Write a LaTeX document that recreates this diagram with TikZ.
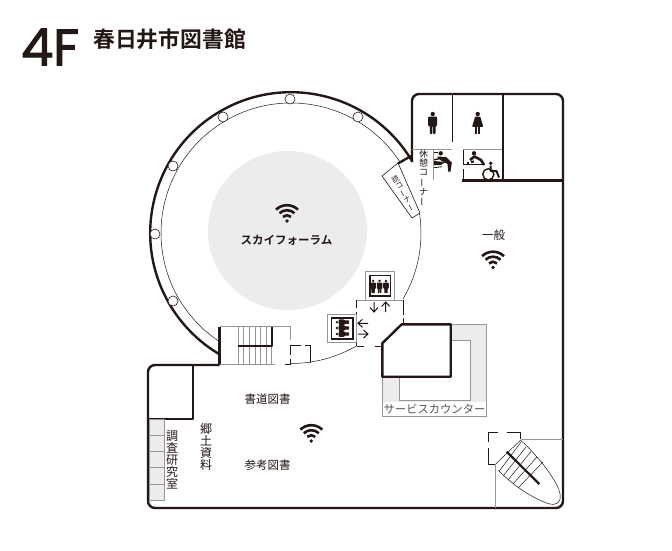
\documentclass[tikz,border=0pt]{standalone}
\usepackage{fontspec}
\newfontfamily\cjk{Noto Sans CJK JP}
\newfontfamily\cjkb{Noto Sans CJK JP}[BoldFont={Noto Sans CJK JP Bold}]
\newfontfamily\latinb{Poppins}[FakeBold=2.0]
\usetikzlibrary{calc}
\definecolor{ink}{RGB}{35,24,21}
\definecolor{tone}{RGB}{150,150,150}
\definecolor{softgrey}{RGB}{236,236,236}
\newcommand{\vbar}{\rotatebox[origin=c]{90}{ー}}
\tikzset{
  wall/.style={draw=ink,line width=2.4pt,line join=round},
  thinline/.style={draw=ink,line width=0.5pt},
  toneline/.style={draw=tone,line width=0.9pt},
  label/.style={text=ink,inner sep=0pt,font={\cjk\fontsize{11.5}{12}\selectfont}},
  vlabel/.style={text=ink,inner sep=0pt,align=center,font={\cjk\fontsize{#1}{#1}\selectfont}},
  manfig/.pic={
    \begin{scope}[yscale=-1]
    \fill[ink] (0,-9) circle (2.2);
    \fill[ink,rounded corners=0.8pt] (-4.5,-6.4) -- (4.5,-6.4) -- (4.5,3) -- (2.8,3) -- (2.8,11) -- (0.3,11) -- (0.3,3) -- (-0.3,3) -- (-0.3,11) -- (-2.8,11) -- (-2.8,3) -- (-4.5,3) -- cycle;
    \end{scope}
  },
  womanfig/.pic={
    \begin{scope}[yscale=-1]
    \fill[ink] (0,-9) circle (2.2);
    \fill[ink,rounded corners=0.6pt] (-2.6,-6.4) -- (2.6,-6.4) -- (5.6,3.8) -- (-5.6,3.8) -- cycle;
    \fill[ink] (-2.6,3.8) rectangle (-0.3,11);
    \fill[ink] (0.3,3.8) rectangle (2.6,11);
    \end{scope}
  },
  wifi/.pic={
    \fill[ink] (0,0) circle (1.9);
    \foreach \r in {5.8,10.8,15.8}{
      \draw[ink,line width=2.6pt] (134:\r) arc[start angle=134,end angle=46,radius=\r];
    }
  },
}
\begin{document}
\begin{tikzpicture}[x=1pt,y=1pt,yscale=-1]
\useasboundingbox (0,0) rectangle (672,550);
\fill[white] (0,0) rectangle (672,550);
\coordinate (c) at (291,233);

% title
\node[anchor=west,inner sep=0pt,text=ink,font={\latinb\fontsize{51}{51}\selectfont}] (floor) at (21,47) {4F};
\node[anchor=west,inner sep=0pt,text=ink,font={\cjkb\bfseries\fontsize{21.8}{22}\selectfont}] (libname) at (93,39) {春日井市図書館};

% forum
\fill[softgrey] (287.5,230.5) circle (79.5);

% inner balcony arcs
\draw[thinline] ([shift={(-33:130)}]c) arc[start angle=-33,end angle=-237,radius=130];
\draw[thinline] ([shift={(-9:130)}]c) arc[start angle=-9,end angle=30.5,radius=130];
\draw[thinline] ([shift={(90:130.5)}]c) arc[start angle=90,end angle=60,radius=130.5];

% outer wall
\draw[wall] ([shift={(-30.4:140.8)}]c) arc[start angle=-30.4,end angle=-239.5,radius=140.8];
\draw[wall,rounded corners=7pt] (412,162) -- (412,94) -- (563,94) -- (563,508) -- (148,508) -- (148,365) -- (219.5,365);
\draw[wall] (219.5,365) -- (219.5,326.5);

% columns
\foreach \p/\q in {290/99,223/117,358/117,173/166,155/234,173/301}{
  \filldraw[fill=white,draw=ink,line width=0.6pt] (\p,\q) circle (5);
}

% reading corner wedge
\filldraw[fill=white,draw=ink,line width=0.6pt] (382,176) -- (398,163) -- (420,213) -- (412,218) -- cycle;
\draw[wall] (398,163.5) -- (411,156);
\node[rotate=30,vlabel=7.2] (reading) at (403.5,193) {読\\[0.5pt]コ\\\vbar\\ナ\\\vbar};

% toilets partitions
\draw[thinline] (452.3,94) -- (452.3,142);
\draw[toneline] (412,149) -- (452,149);
\draw[toneline] (463,149) -- (502.7,149);
\draw[toneline] (433.7,149) -- (433.7,180);
\draw[wall] (502.7,94) -- (502.7,180.3);
\draw[wall] (462,180.3) -- (563,180.3);
\draw[ink,line width=0.8pt] (463,150) -- (463,165);
\draw[ink,line width=0.8pt] (463,169) -- (463,180);
\pic at (432.7,123) {manfig};
\pic at (477.7,123) {womanfig};
\node[vlabel=9] (rest) at (423.5,178.5) {休\\憩\\コ\\\vbar\\ナ\\\vbar};

% drinking fountain
\fill[ink] (440.7,153.3) circle (2.2);
\fill[ink] (437,156.5) -- (446,157) -- (451.8,162.5) -- (450.5,171.5) -- (448.2,171.5) -- (447.5,164) -- (441,160.5) -- cycle;
\draw[ink,line width=1.4pt] (434,159.8) -- (441.5,158.2);
\fill[ink] (434,161) -- (445,162) -- (441,165) -- (434,165) -- cycle;
\draw[ink,line width=0.8pt] (434,167.7) -- (442,166.7);
\draw[ink,line width=0.8pt] (434,152.3) -- (438,152.3);

% baby changing
\fill[ink] (474,153.3) circle (2.2);
\draw[ink,line width=2.6pt,line join=round] (470,160) -- (474.5,156.5) -- (481,160) -- (484,165);
\draw[ink,line width=2pt] (467,162.5) -- (469,162.5);
\draw[ink,line width=2pt] (471,162) -- (474,161.5);
\draw[ink,line width=0.9pt] (464,164.6) -- (485,164.6);

% wheelchair
\fill[ink] (490.7,163.3) circle (1.9);
\draw[ink,line width=1.4pt] (488.3,174.3) circle (5.6);
\draw[ink,line width=2pt,line join=round] (490.7,165.5) -- (490.7,171) -- (496.5,171) -- (499,177.5);

% stairs (upper left)
\draw[toneline] (219.5,326.7) -- (290,326.7) -- (290,340);
\foreach \s in {238.3,243.5,249.3,255,260.7,266}{
  \draw[toneline] (\s,327) -- (\s,364.5);
}
\draw[toneline] (271.7,345) -- (271.7,364.5);
\draw[wall] (271.7,327) -- (271.7,345.7) -- (238,345.7);
\draw[toneline] (219.5,364.7) -- (275,364.7);
\draw[thinline] (285,364.5) -- (291,364.5);
\draw[thinline] (290.5,345) -- (290.5,355);
\draw[thinline] (290.5,359) -- (290.5,364);
\draw[thinline] (291,345.3) -- (301,345.3);
\draw[thinline] (305,345.3) -- (310,345.3) -- (310,363);

% counter surround
\filldraw[fill=softgrey,draw=tone,line width=0.9pt] (382.3,324.7) rectangle (486.7,416.7);
\fill[white] (383,402) rectangle (486,416);
\filldraw[fill=white,draw=tone,line width=0.9pt] (399,376.7) -- (399,400) -- (470.7,400) -- (470.7,340.7) -- (451,340.7) -- (451,376.7) -- cycle;
\fill[white] (381,323) -- (401.7,323) -- (381,343.5) -- cycle;
\draw[toneline] (401.7,324.7) -- (486.7,324.7);
\filldraw[fill=white,draw=ink,line width=2.4pt,line join=round] (401.7,324.3) -- (450.7,324.3) -- (450.7,376.7) -- (382.3,376.7) -- (382.3,343.3) -- cycle;
\node[inner sep=0pt,text=ink!75,font={\cjk\fontsize{11.3}{12}\selectfont}] (counter) at (434.5,409.5) {サービスカウンター};

% elevator hall
\draw[toneline] (356.7,300) -- (403,300);
\draw[thinline] (356.7,300) -- (356.7,308);
\draw[thinline] (356.7,312) -- (356.7,316);
\draw[thinline] (357,346) -- (364,346);
\draw[thinline] (375,346) -- (382,346);
\draw[thinline] (356.7,341) -- (356.7,346);
\draw[thinline] (403,300) -- (403,315);
\draw[thinline] (403,318) -- (403,324);

\filldraw[fill=white,draw=tone,line width=0.9pt] (365.7,271.7) rectangle (394.3,300);
\draw[ink,line width=1.8pt] (370,275.5) rectangle (390.5,296);
\foreach \s in {373.2,379.6,386}{
  \pic[scale=0.62] at (\s,286.5) {manfig};
}
\filldraw[fill=white,draw=tone,line width=0.9pt] (327.3,314.3) rectangle (356.7,342.7);
\draw[ink,line width=1.8pt] (331.5,318) rectangle (353,339.3);
\foreach \s in {322.2,328,334}{
  \pic[scale=0.62,rotate=90] at (342.5,\s) {manfig};
}
\coordinate (d1) at (374,302); \coordinate (d2) at (374,312);
\coordinate (u1) at (385.7,312); \coordinate (u2) at (385.7,302);
\coordinate (l1) at (368,323.3); \coordinate (l2) at (358,323.3);
\coordinate (r1) at (358,334); \coordinate (r2) at (368,334);
\draw[ink,line width=1pt] (d1) -- (d2) (370,307.5) -- (d2) -- (378,307.5);
\draw[ink,line width=1pt] (u1) -- (u2) (381.7,306.5) -- (u2) -- (389.7,306.5);
\draw[ink,line width=1pt] (l1) -- (l2) (362.5,319.3) -- (l2) -- (362.5,327.3);
\draw[ink,line width=1pt] (r1) -- (r2) (363.5,330) -- (r2) -- (363.5,338);

% west rooms
\draw[wall] (192.7,365) -- (192.7,419) -- (148,419);
\filldraw[fill=softgrey,draw=tone,line width=0.8pt] (149,419.5) rectangle (164.7,500);
\foreach \s in {435,451,467,484}{
  \draw[toneline] (149,\s) -- (164.7,\s);
}

% stair SE
\draw[thinline] (488.3,432.7) -- (498,432.7);
\draw[thinline] (506.7,432.7) -- (520.7,432.7) -- (520.7,439.3);
\draw[thinline] (488.3,432.7) -- (488.3,442);
\draw[thinline] (488.3,448) -- (488.3,464) -- (495.7,464);
\draw[toneline] (520.7,439.3) -- (563,439.3);
\draw[toneline] (495.3,464) -- (495.3,508);
\draw[thinline] (495.7,464) -- (520.7,440);
\draw[thinline] (521,440.5) .. controls (540,458) and (558,482) .. (560,494) .. controls (561.5,503) and (556,506) .. (548,503.5) .. controls (534,498.5) and (516,488) .. (498.5,470.5);
\foreach \a/\b/\e/\f in {
  499/471.5/521/442,
  503.5/475.5/526/447,
  508/480/531/451.5,
  513/484/537/457,
  518/488/543/462}{
  \draw[thinline] (\a,\b) -- (\e,\f);
}
\draw[ink,line width=2.2pt] (506.7,451.7) -- (539.3,484);

% labels
\pic at (287,221) {wifi};
\pic at (493,267.5) {wifi};
\pic at (311.3,441) {wifi};
\node[inner sep=0pt,text=ink,font={\cjkb\bfseries\fontsize{11.5}{12}\selectfont}] (forum) at (286.5,240.5) {スカイフォーラム};
\node[label] (general) at (493.5,235.5) {一般};
\node[label] (shodo) at (267.5,399) {書道図書};
\node[label] (sanko) at (267.5,465) {参考図書};
\node[vlabel=12] (chosa) at (172,460) {調\\査\\研\\究\\室};
\node[vlabel=12] (kyodo) at (206,447) {郷\\土\\資\\料};
\end{tikzpicture}
\end{document}
